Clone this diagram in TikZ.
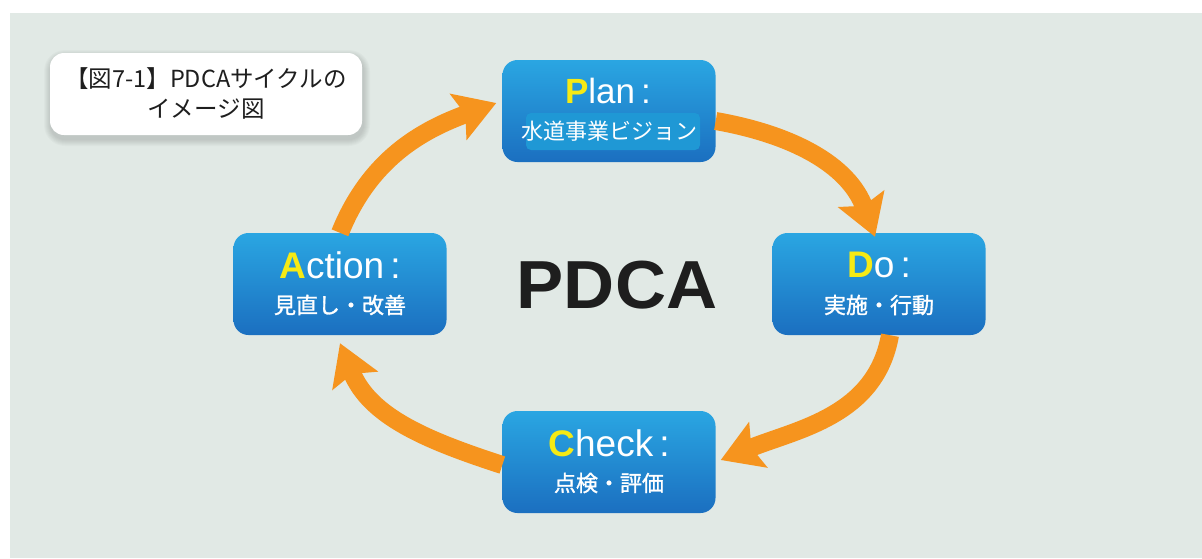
\documentclass[tikz,border=0pt]{standalone}
\usepackage{fontspec}
\setmainfont{Liberation Sans}
\newfontfamily\jp{Noto Sans CJK JP}
\newfontfamily\jpm[FakeBold=1.3]{Noto Sans CJK JP}
\usetikzlibrary{arrows.meta}
\definecolor{bgpanel}{RGB}{225,233,229}
\definecolor{boxtop}{RGB}{42,166,226}
\definecolor{boxbot}{RGB}{27,111,192}
\definecolor{hilite}{RGB}{31,152,213}
\definecolor{ylw}{RGB}{246,234,20}
\definecolor{orng}{RGB}{246,148,30}
\definecolor{ink}{RGB}{30,30,30}
\tikzset{
  stepbox/.style={rounded corners=15pt, minimum width=213pt, minimum height=102pt,
    top color=boxtop, bottom color=boxbot, draw=none, inner sep=0pt},
  headtxt/.style={text=white, inner sep=0pt, font=\fontsize{37}{40}\selectfont},
  subtxt/.style={text=white, inner sep=0pt, font=\jpm\fontsize{22}{24}\selectfont},
  cyc/.style={draw=orng, line width=18pt,
    -{Stealth[length=40pt, width=48pt, inset=7pt]}},
}
\newcommand{\yl}[1]{\textcolor{ylw}{\textbf{#1}}}
\begin{document}
\begin{tikzpicture}[x=1pt,y=-1pt]
\useasboundingbox (0,0) rectangle (1202,558);
\fill[white] (0,0) rectangle (1202,558);
\fill[bgpanel] (10,13) rectangle (1202,558);

% title soft shadow
\foreach \i in {1,...,7} {
  \fill[black, opacity=0.018, rounded corners={14pt+\i pt}]
    ({50-\i+1},{53-\i+4}) rectangle ({362+\i+1},{135+\i+4});
}
\node[fill=white, rounded corners=14pt, minimum width=312pt, minimum height=82pt,
  inner sep=0pt] (title) at (206,94) {};
\node[inner sep=0pt, align=center, font=\jp\fontsize{23.5}{30}\selectfont, text=ink] (titletxt) at (206,93)
  {【図7-1】PDCAサイクルの\\イメージ図};

% boxes
\node[stepbox] (plan) at (609,111) {};
\node[stepbox] (do) at (879,284) {};
\node[stepbox] (check) at (609,462) {};
\node[stepbox] (act) at (340,284) {};

\node[fill=hilite, rounded corners=5pt, minimum width=174pt, minimum height=37pt, inner sep=0pt]
  (planhl) at (613,131.5) {};
\node[headtxt, font=\fontsize{35}{38}\selectfont] (planh) at (608,91) {\yl{P}lan\hspace{6pt}:};
\node[subtxt, font=\jp\fontsize{22}{24}\selectfont] (plans) at (609,131) {水道事業ビジョン};

\node[headtxt] (doh) at (879,265) {\yl{D}o\hspace{6pt}:};
\node[subtxt] (dos) at (879,305) {実施・行動};

\node[headtxt] (checkh) at (609,443) {\yl{C}heck\hspace{6pt}:};
\node[subtxt] (checks) at (609,483) {点検・評価};

\node[headtxt] (acth) at (340,265) {\yl{A}ction\hspace{6pt}:};
\node[subtxt] (acts) at (340,305) {見直し・改善};

% center label
\node[inner sep=0pt, text=ink, font=\bfseries\fontsize{68}{70}\selectfont] (pdca) at (617,285) {\scalebox{1.04}[1]{PDCA}};

% cycle arrows
\draw[cyc] ([yshift=-10pt]plan.east) to[out=-10, in=110] ([xshift=-4pt,yshift=-4pt]do.north);
\draw[cyc] ([xshift=11pt]do.south) to[out=-100, in=22] ([xshift=5pt,yshift=2pt]check.east);
\draw[cyc] ([yshift=-3pt]check.west) to[out=162, in=-68] ([yshift=-8pt]act.south);
\draw[cyc] (act.north) to[out=68, in=200] ([xshift=-6pt,yshift=8pt]plan.west);
\end{tikzpicture}
\end{document}
